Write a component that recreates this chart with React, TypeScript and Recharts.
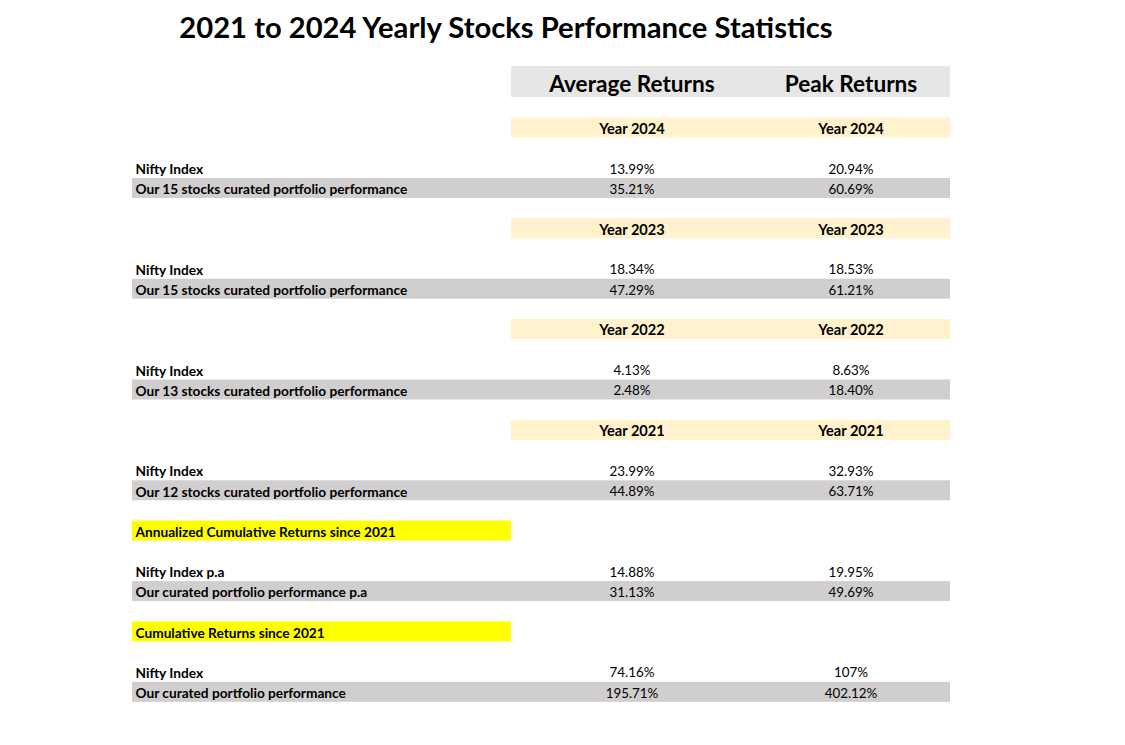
import React from "react";
import { BarChart, Bar, XAxis, YAxis } from "recharts";

// yearly blocks, newest first
const years = ["Year 2024", "Year 2023", "Year 2022", "Year 2021"];
const portfolioNames = [
  "Our 15 stocks curated portfolio performance",
  "Our 15 stocks curated portfolio performance",
  "Our 13 stocks curated portfolio performance",
  "Our 12 stocks curated portfolio performance",
];
const niftyAvg = ["13.99%", "18.34%", "4.13%", "23.99%"];
const niftyPeak = ["20.94%", "18.53%", "8.63%", "32.93%"];
const portfolioAvg = ["35.21%", "47.29%", "2.48%", "44.89%"];
const portfolioPeak = ["60.69%", "61.21%", "18.40%", "63.71%"];

// summary blocks
const summaryTitles = ["Annualized Cumulative Returns since 2021", "Cumulative Returns since 2021"];
const summaryNiftyNames = ["Nifty Index p.a", "Nifty Index"];
const summaryPortfolioNames = ["Our curated portfolio performance p.a", "Our curated portfolio performance"];
const summaryNiftyAvg = ["14.88%", "74.16%"];
const summaryNiftyPeak = ["19.95%", "107%"];
const summaryPortfolioAvg = ["31.13%", "195.71%"];
const summaryPortfolioPeak = ["49.69%", "402.12%"];

const columnTitles = ["Average Returns", "Peak Returns"];

type Row = { id: string; kind: string; label?: string; avg?: string; peak?: string };

const rows: Row[] = [];
years.forEach((yr, i) => {
  rows.push({ id: `y${i}`, kind: "year", avg: yr, peak: yr });
  rows.push({ id: `y${i}b`, kind: "blank" });
  rows.push({ id: `y${i}n`, kind: "plain", label: "Nifty Index", avg: niftyAvg[i], peak: niftyPeak[i] });
  rows.push({ id: `y${i}p`, kind: "gray", label: portfolioNames[i], avg: portfolioAvg[i], peak: portfolioPeak[i] });
  rows.push({ id: `y${i}s`, kind: "blank" });
});
summaryTitles.forEach((t, i) => {
  rows.push({ id: `s${i}`, kind: "yellow", label: t });
  rows.push({ id: `s${i}b`, kind: "blank" });
  rows.push({ id: `s${i}n`, kind: "plain", label: summaryNiftyNames[i], avg: summaryNiftyAvg[i], peak: summaryNiftyPeak[i] });
  rows.push({ id: `s${i}p`, kind: "gray", label: summaryPortfolioNames[i], avg: summaryPortfolioAvg[i], peak: summaryPortfolioPeak[i] });
  if (i === 0) rows.push({ id: `s${i}s`, kind: "blank" });
});

const W = 1125;
const H = 745;
const FONT = "Lato, 'Open Sans', sans-serif";
const LEFT = 132;
const MID = 511;
const RIGHT = 950;
const AVG_X = 632;
const PEAK_X = 851;
const LABEL_X = 135.5;

const RowShape = (props: any) => {
  const { y, height, payload } = props;
  const cy = y + height / 2 + 0.8;
  const k = payload.kind;
  if (k === "blank") return <g />;
  const valSize = k === "year" ? 14.6 : 13.4;
  return (
    <g>
      {k === "year" && <rect x={MID} y={y} width={RIGHT - MID} height={height} fill="#fff2cc" />}
      {k === "gray" && <rect x={LEFT} y={y} width={RIGHT - LEFT} height={height} fill="#d0cece" />}
      {k === "yellow" && <rect x={LEFT} y={y} width={MID - LEFT} height={height} fill="#ffff00" />}
      {payload.label && (
        <text x={LABEL_X} y={cy} dominantBaseline="central" fontFamily={FONT} fontSize={13.7} fontWeight={700} fill="#000">
          {payload.label}
        </text>
      )}
      {payload.avg && (
        <text x={AVG_X} y={cy} textAnchor="middle" dominantBaseline="central" fontFamily={FONT} fontSize={valSize}
          fontWeight={k === "year" ? 700 : 400} fill="#000">
          {payload.avg}
        </text>
      )}
      {payload.peak && (
        <text x={PEAK_X} y={cy} textAnchor="middle" dominantBaseline="central" fontFamily={FONT} fontSize={valSize}
          fontWeight={k === "year" ? 700 : 400} fill="#000">
          {payload.peak}
        </text>
      )}
    </g>
  );
};

export default function App() {
  return (
    <div style={{ position: "absolute", left: 0, top: 0, width: W, height: H, background: "#fff" }}>
      <svg width={W} height={H} style={{ position: "absolute", left: 0, top: 0 }}>
        <text x={506} y={26} textAnchor="middle" dominantBaseline="central" fontFamily={FONT} fontSize={29.2} fontWeight={700} fill="#000">
          2021 to 2024 Yearly Stocks Performance Statistics
        </text>
        <rect x={MID} y={66} width={RIGHT - MID} height={31} fill="#e7e6e6" />
        <text x={AVG_X} y={83} textAnchor="middle" dominantBaseline="central" fontFamily={FONT} fontSize={22.6} fontWeight={700} fill="#000">
          {columnTitles[0]}
        </text>
        <text x={PEAK_X} y={83} textAnchor="middle" dominantBaseline="central" fontFamily={FONT} fontSize={22.6} fontWeight={700} fill="#000">
          {columnTitles[1]}
        </text>
      </svg>
      <div style={{ position: "absolute", left: 0, top: 0 }}>
        <BarChart
          width={W}
          height={H}
          data={rows}
          layout="vertical"
          margin={{ top: 117.5, right: 0, bottom: 43, left: 0 }}
          barCategoryGap={0}
        >
          <XAxis type="number" domain={[0, 1]} hide />
          <YAxis type="category" dataKey="id" hide />
          <Bar dataKey={() => 1} isAnimationActive={false} shape={RowShape} />
        </BarChart>
      </div>
    </div>
  );
}
